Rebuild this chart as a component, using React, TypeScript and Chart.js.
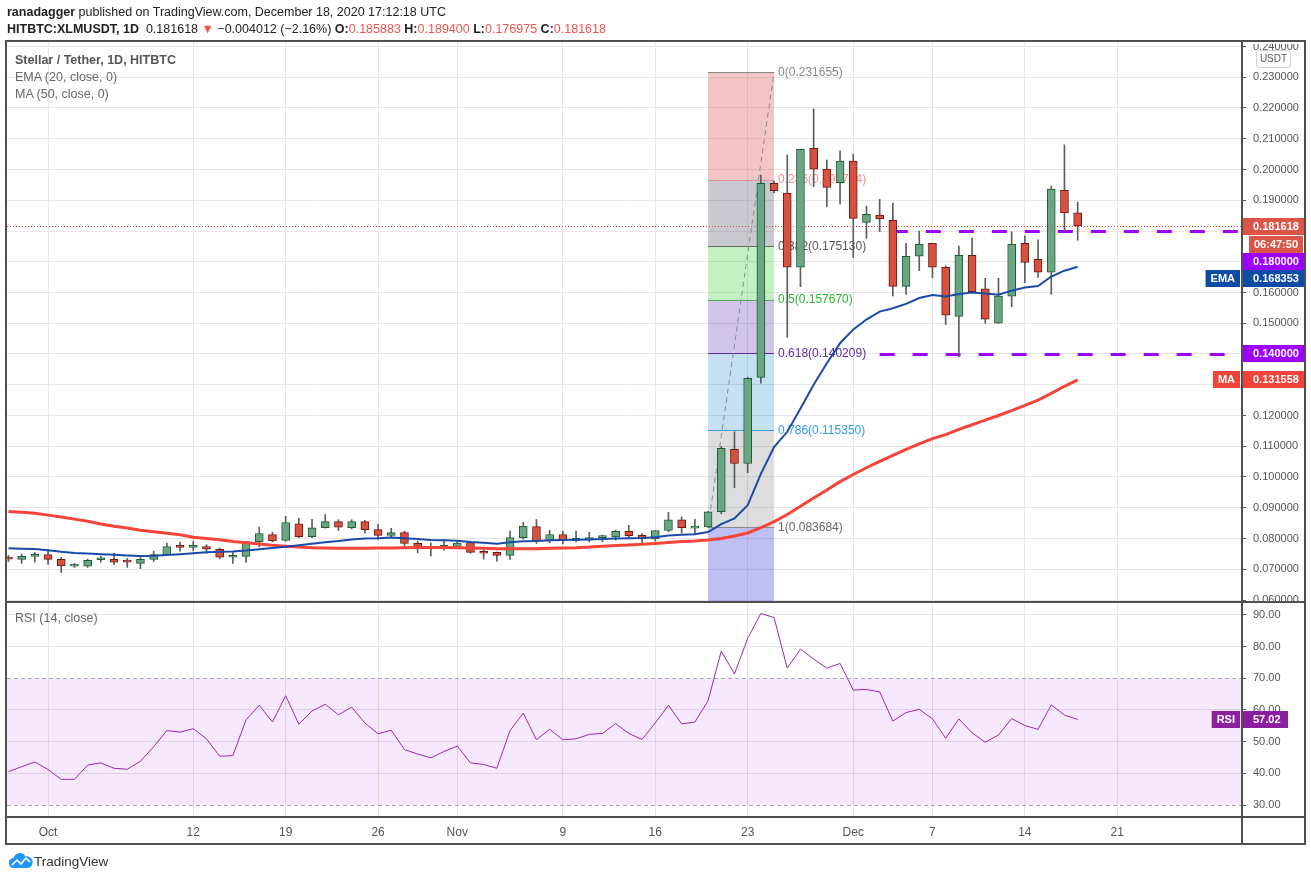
import React, { useEffect, useRef } from 'react';
import { Chart, registerables } from 'chart.js';

Chart.register(...registerables);

// ---------- DATA (index 0 = Sep 28, 2020; one candle per day up to Dec 18) ----------
const opens = [
  0.0738, 0.0732, 0.0742, 0.0748, 0.0732, 0.0710, 0.0710, 0.0731, 0.0732, 0.0725,
  0.0719, 0.0732, 0.0747, 0.0773, 0.0771, 0.0774, 0.0765, 0.0739, 0.0742, 0.0790,
  0.0813, 0.0794, 0.0848, 0.0806, 0.0835, 0.0855, 0.0835, 0.0855, 0.0829, 0.0810,
  0.0819, 0.0784, 0.0774, 0.0768, 0.0774, 0.0787, 0.0756, 0.0755, 0.0745, 0.0803,
  0.0839, 0.0792, 0.0813, 0.0794, 0.0795, 0.0803, 0.0805, 0.0823, 0.0810, 0.0799,
  0.0826, 0.0861, 0.0834, 0.0838, 0.0887, 0.1090, 0.1044, 0.1324, 0.1955, 0.1923,
  0.1682, 0.2069, 0.2001, 0.1957, 0.2027, 0.1828, 0.1852, 0.1835, 0.1620, 0.1718,
  0.1760, 0.1682, 0.1522, 0.1721, 0.1612, 0.1500, 0.1588, 0.1760, 0.1708, 0.1666,
  0.1932, 0.185883,
];
const highs = [
  0.0745, 0.0749, 0.0754, 0.0762, 0.0739, 0.0719, 0.0733, 0.0742, 0.0752, 0.0735,
  0.0738, 0.0759, 0.0785, 0.0788, 0.0791, 0.0780, 0.0769, 0.0754, 0.0791, 0.0837,
  0.0820, 0.0872, 0.0866, 0.0862, 0.0878, 0.0861, 0.0861, 0.0859, 0.0846, 0.0833,
  0.0824, 0.0792, 0.0785, 0.0795, 0.0792, 0.0791, 0.0765, 0.0756, 0.0824, 0.0853,
  0.0862, 0.0827, 0.0824, 0.0824, 0.0820, 0.0811, 0.0827, 0.0843, 0.0816, 0.0826,
  0.0885, 0.0870, 0.0862, 0.0888, 0.1099, 0.1147, 0.1325, 0.1982, 0.1962, 0.2047,
  0.2066, 0.2197, 0.2031, 0.2061, 0.2050, 0.1881, 0.1903, 0.1891, 0.1760, 0.1800,
  0.1760, 0.1687, 0.1751, 0.1777, 0.1646, 0.1646, 0.1797, 0.1784, 0.1771, 0.1946,
  0.2080, 0.189400,
];
const lows = [
  0.0725, 0.0719, 0.0723, 0.0716, 0.0689, 0.0706, 0.0706, 0.0723, 0.0716, 0.0706,
  0.0702, 0.0725, 0.0746, 0.0759, 0.0760, 0.0752, 0.0734, 0.0719, 0.0722, 0.0773,
  0.0789, 0.0791, 0.0803, 0.0803, 0.0834, 0.0826, 0.0831, 0.0818, 0.0797, 0.0805,
  0.0773, 0.0754, 0.0743, 0.0762, 0.0768, 0.0752, 0.0733, 0.0726, 0.0732, 0.0798,
  0.0784, 0.0786, 0.0782, 0.0789, 0.0789, 0.0789, 0.0795, 0.0799, 0.0786, 0.0791,
  0.0822, 0.0818, 0.0816, 0.0836, 0.0880, 0.0965, 0.1014, 0.1305, 0.1925, 0.1454,
  0.1619, 0.1944, 0.1879, 0.1888, 0.1714, 0.1776, 0.1798, 0.1589, 0.1594, 0.1671,
  0.1648, 0.1496, 0.1391, 0.1602, 0.1500, 0.1500, 0.1554, 0.1632, 0.1649, 0.1594,
  0.1800, 0.176975,
];
const closes = [
  0.0733, 0.0742, 0.0748, 0.0732, 0.0711, 0.0712, 0.0729, 0.0733, 0.0723, 0.0723,
  0.0732, 0.0748, 0.0774, 0.0771, 0.0774, 0.0765, 0.0739, 0.0742, 0.0790, 0.0816,
  0.0792, 0.0852, 0.0806, 0.0835, 0.0855, 0.0837, 0.0855, 0.0829, 0.0810, 0.0819,
  0.0784, 0.0773, 0.0767, 0.0778, 0.0785, 0.0755, 0.0752, 0.0745, 0.0803, 0.0840,
  0.0792, 0.0813, 0.0796, 0.0798, 0.0803, 0.0808, 0.0823, 0.0809, 0.0799, 0.0826,
  0.0861, 0.0835, 0.0837, 0.0887, 0.1093, 0.1044, 0.1321, 0.1955, 0.1931, 0.1682,
  0.2066, 0.2001, 0.1942, 0.2027, 0.1841, 0.1854, 0.1839, 0.1620, 0.1718, 0.1757,
  0.1682, 0.1526, 0.1721, 0.1603, 0.1513, 0.1588, 0.1757, 0.1698, 0.1666, 0.1936,
  0.1859, 0.181618,
];
const ema20 = [
  0.0768, 0.0767, 0.0766, 0.0762, 0.0757, 0.0753, 0.0751, 0.0749, 0.0747, 0.0745,
  0.0743, 0.0744, 0.0746, 0.0749, 0.0752, 0.0755, 0.0757, 0.0758, 0.0761, 0.0765,
  0.0769, 0.0773, 0.0778, 0.0783, 0.0788, 0.0792, 0.0797, 0.0800, 0.0801, 0.0803,
  0.0801, 0.0798, 0.0795, 0.0794, 0.0793, 0.0789, 0.0786, 0.0783, 0.0788, 0.0791,
  0.0792, 0.0794, 0.0795, 0.0796, 0.0797, 0.0798, 0.0800, 0.0801, 0.0802, 0.0804,
  0.0810, 0.0812, 0.0814, 0.0821, 0.0847, 0.0865, 0.0908, 0.1010, 0.1097, 0.1147,
  0.1223, 0.1300, 0.1370, 0.1435, 0.1480, 0.1512, 0.1538, 0.1549, 0.1563, 0.1582,
  0.1592, 0.1587, 0.1595, 0.1600, 0.1597, 0.1593, 0.1606, 0.1616, 0.1621, 0.1652,
  0.1671, 0.168353,
];
const ma50 = [
  0.0888, 0.0885, 0.0882, 0.0876, 0.0870, 0.0863, 0.0856, 0.0847, 0.0840, 0.0834,
  0.0827, 0.0822, 0.0817, 0.0812, 0.0804, 0.0800, 0.0796, 0.0790, 0.0786, 0.0782,
  0.0778, 0.0775, 0.0772, 0.0770, 0.0769, 0.0768, 0.0768, 0.0768, 0.0769, 0.0769,
  0.0770, 0.0771, 0.0771, 0.0771, 0.0770, 0.0769, 0.0768, 0.0767, 0.0767, 0.0767,
  0.0767, 0.0768, 0.0769, 0.0770, 0.0772, 0.0775, 0.0777, 0.0779, 0.0781, 0.0784,
  0.0787, 0.0790, 0.0792, 0.0795, 0.0800, 0.0808, 0.0818, 0.0835, 0.0855, 0.0878,
  0.0905, 0.0932, 0.0958, 0.0985, 0.1008, 0.1030, 0.1051, 0.1070, 0.1090, 0.1108,
  0.1125, 0.1138, 0.1155, 0.1170, 0.1185, 0.1200, 0.1216, 0.1233, 0.1250, 0.1272,
  0.1295, 0.131558,
];
const rsi14 = [
  40.5, 42.1, 43.6, 41.2, 38.1, 38.1, 42.6, 43.3, 41.6, 41.3,
  43.8, 48.4, 53.5, 53.0, 54.1, 50.9, 45.4, 45.6, 56.9, 61.5,
  56.2, 64.5, 55.5, 59.7, 61.8, 58.5, 60.9, 55.9, 52.5, 53.6,
  47.5, 46.1, 44.9, 46.9, 48.6, 43.3, 42.8, 41.6, 53.5, 59.0,
  50.6, 53.9, 50.6, 50.9, 52.3, 52.6, 55.7, 52.6, 50.7, 55.9,
  61.5, 55.6, 56.2, 62.9, 78.6, 71.4, 82.6, 90.5, 89.2, 73.2,
  79.2, 76.1, 73.2, 74.7, 66.3, 66.5, 65.7, 56.5, 59.2, 60.2,
  57.2, 51.1, 57.2, 52.8, 49.8, 52.1, 57.3, 55.1, 53.9, 61.6,
  58.4, 57.02,
];

const timeTickDays = [3, 14, 21, 28, 34, 42, 49, 56, 64, 70, 77, 84];
const timeTickLabels = ['Oct', '12', '19', '26', 'Nov', '9', '16', '23', 'Dec', '7', '14', '21'];
const priceTicks = [
  0.06, 0.07, 0.08, 0.09, 0.10, 0.11, 0.12, 0.13, 0.14, 0.15,
  0.16, 0.17, 0.18, 0.19, 0.20, 0.21, 0.22, 0.23, 0.24,
];
const rsiTicks = [30, 40, 50, 60, 70, 80, 90];

const fibRatios = [0, 0.236, 0.382, 0.5, 0.618, 0.786, 1];
const fibPrices = [0.231655, 0.196734, 0.17513, 0.15767, 0.140209, 0.11535, 0.083684];
const fibStartDay = 53;
const fibEndDay = 58;

const levelPrices = [0.18, 0.14];
const levelStartDays = [67, 66];

const lastPrice = 0.181618;
const countdownText = '06:47:50';

// ---------- STYLE ----------
const FONT = '"Liberation Sans", Arial, sans-serif';
const UP_FILL = '#6aa683';
const UP_LINE = '#1f5c34';
const DN_FILL = '#d65140';
const DN_LINE = '#6b1a10';
const WICK = '#5d5d5d';
const PURPLE = '#9d00ff';
const TAG_RED = '#dc5446';

const fibFills = [
  'rgba(220,80,80,0.33)',
  'rgba(120,123,134,0.40)',
  'rgba(60,210,60,0.30)',
  'rgba(103,58,183,0.30)',
  'rgba(40,140,210,0.27)',
  'rgba(120,120,120,0.25)',
  'rgba(60,60,220,0.33)',
];
const fibLineColors = ['#888888', '#e98f8f', '#666666', '#4caf50', '#5a2a9a', '#3a9bd8', '#888888'];
const fibTextColors = ['#888888', '#f09090', '#555555', '#2db82d', '#5b2d9e', '#2f9ee0', '#666666'];

function drawTag(ctx: CanvasRenderingContext2D, x: number, yc: number, w: number, h: number, bg: string, text: string, align: 'left' | 'center', tx: number) {
  ctx.fillStyle = bg;
  ctx.fillRect(x, Math.round(yc - h / 2), w, h);
  ctx.fillStyle = '#ffffff';
  ctx.font = `bold 11px ${FONT}`;
  ctx.textBaseline = 'middle';
  ctx.textAlign = align;
  ctx.fillText(text, tx, Math.round(yc - h / 2) + h / 2 + 0.5);
}

const overlayPlugin = {
  id: 'tvOverlay',
  beforeDatasetsDraw(chart: any) {
    const { ctx, chartArea, scales } = chart;
    const xs = scales.x;
    const ys = scales.y;
    const rs = scales.rsi;
    const L = chartArea.left;
    const R = chartArea.right;

    ctx.save();
    // RSI band
    const y70 = rs.getPixelForValue(70);
    const y30 = rs.getPixelForValue(30);
    ctx.fillStyle = 'rgba(170,50,240,0.11)';
    ctx.fillRect(L, y70, R - L, y30 - y70);
    ctx.strokeStyle = '#a9a9a9';
    ctx.lineWidth = 1;
    ctx.setLineDash([4, 3]);
    [y70, y30].forEach((yy: number) => {
      ctx.beginPath();
      ctx.moveTo(L, Math.round(yy) + 0.5);
      ctx.lineTo(R, Math.round(yy) + 0.5);
      ctx.stroke();
    });
    ctx.setLineDash([]);
    ctx.restore();

    // price pane drawings
    ctx.save();
    ctx.beginPath();
    ctx.rect(L, ys.top, R - L, ys.bottom - ys.top);
    ctx.clip();

    const xl = xs.getPixelForValue(fibStartDay);
    const xr = xs.getPixelForValue(fibEndDay);
    for (let k = 0; k < fibPrices.length - 1; k++) {
      const a = ys.getPixelForValue(fibPrices[k]);
      const b = ys.getPixelForValue(fibPrices[k + 1]);
      ctx.fillStyle = fibFills[k];
      ctx.fillRect(xl, a, xr - xl, b - a);
    }
    const lastY = ys.getPixelForValue(fibPrices[fibPrices.length - 1]);
    ctx.fillStyle = fibFills[fibFills.length - 1];
    ctx.fillRect(xl, lastY, xr - xl, ys.bottom - lastY);

    ctx.lineWidth = 1;
    fibPrices.forEach((p, k) => {
      const yy = Math.round(ys.getPixelForValue(p)) + 0.5;
      ctx.strokeStyle = fibLineColors[k];
      ctx.beginPath();
      ctx.moveTo(xl, yy);
      ctx.lineTo(xr, yy);
      ctx.stroke();
    });
    ctx.font = `12px ${FONT}`;
    ctx.textAlign = 'left';
    ctx.textBaseline = 'middle';
    fibPrices.forEach((p, k) => {
      const yy = ys.getPixelForValue(p);
      ctx.fillStyle = fibTextColors[k];
      ctx.fillText(`${fibRatios[k]}(${p.toFixed(6)})`, xr + 4, yy + 0.5);
    });
    // trend line
    ctx.strokeStyle = '#8a8a8a';
    ctx.setLineDash([5, 4]);
    ctx.beginPath();
    ctx.moveTo(xl, ys.getPixelForValue(fibPrices[fibPrices.length - 1]));
    ctx.lineTo(xr, ys.getPixelForValue(fibPrices[0]));
    ctx.stroke();

    // last price dotted line
    const lp = Math.round(ys.getPixelForValue(lastPrice)) + 0.5;
    ctx.strokeStyle = '#e04a3a';
    ctx.setLineDash([1, 2]);
    ctx.beginPath();
    ctx.moveTo(L, lp);
    ctx.lineTo(R, lp);
    ctx.stroke();

    // purple dashed levels
    ctx.strokeStyle = PURPLE;
    ctx.lineWidth = 3;
    ctx.setLineDash([15, 18]);
    levelPrices.forEach((p, k) => {
      const yy = Math.round(ys.getPixelForValue(p)) + 0.5;
      ctx.beginPath();
      ctx.moveTo(xs.getPixelForValue(levelStartDays[k]), yy);
      ctx.lineTo(R, yy);
      ctx.stroke();
    });
    ctx.setLineDash([]);
    ctx.restore();
  },
  afterDraw(chart: any) {
    const { ctx, chartArea, scales } = chart;
    const ys = scales.y;
    const rs = scales.rsi;
    const R = chartArea.right;
    const full = chart.width;

    ctx.save();
    // clip the top tick label like the reference
    ctx.fillStyle = '#ffffff';
    ctx.fillRect(R + 1, 0, full - R, chartArea.top + 3);

    // USDT box
    ctx.fillStyle = '#ffffff';
    ctx.strokeStyle = '#d0d0d4';
    ctx.lineWidth = 1;
    ctx.beginPath();
    (ctx as any).roundRect(1256.5, 50.5, 34, 17, 3);
    ctx.fill();
    ctx.stroke();
    ctx.fillStyle = '#555555';
    ctx.font = `10px ${FONT}`;
    ctx.textAlign = 'center';
    ctx.textBaseline = 'middle';
    ctx.fillText('USDT', 1273.5, 59.5);

    // price tags with overlap stacking
    const H = 17;
    const tagW = 63;
    const textX = R + 11;
    const items = [
      { v: lastPrice, bg: TAG_RED, txt: lastPrice.toFixed(6), lab: '', countdown: true },
      { v: levelPrices[0], bg: PURPLE, txt: levelPrices[0].toFixed(6), lab: '', countdown: false },
      { v: ema20[ema20.length - 1], bg: '#0e4ba6', txt: ema20[ema20.length - 1].toFixed(6), lab: 'EMA', countdown: false },
      { v: levelPrices[1], bg: PURPLE, txt: levelPrices[1].toFixed(6), lab: '', countdown: false },
      { v: ma50[ma50.length - 1], bg: '#f2433a', txt: ma50[ma50.length - 1].toFixed(6), lab: 'MA', countdown: false },
    ].map((it) => ({ ...it, y: ys.getPixelForValue(it.v) }));
    items.sort((a, b) => a.y - b.y);
    let prevBottom = -1e9;
    items.forEach((it) => {
      let yc = it.y;
      if (yc - H / 2 < prevBottom) yc = prevBottom + H / 2;
      drawTag(ctx, R, yc, tagW, H, it.bg, it.txt, 'left', textX);
      if (it.lab) {
        ctx.font = `bold 11px ${FONT}`;
        const w = ctx.measureText(it.lab).width + 10;
        drawTag(ctx, R - 2 - w, yc, w, H, it.bg, it.lab, 'center', R - 2 - w / 2);
      }
      prevBottom = yc + H / 2;
      if (it.countdown) {
        const cy = prevBottom + 1 + H / 2;
        drawTag(ctx, R + 7, cy, 54, H, it.bg, countdownText, 'center', R + 7 + 27);
        prevBottom = cy + H / 2;
      }
    });

    // RSI tag
    const rv = rsi14[rsi14.length - 1];
    const ry = rs.getPixelForValue(rv);
    drawTag(ctx, R, ry, 46, H, '#8b1fa0', rv.toFixed(2), 'left', textX);
    ctx.font = `bold 11px ${FONT}`;
    const rw = ctx.measureText('RSI').width + 10;
    drawTag(ctx, R - 2 - rw, ry, rw, H, '#8b1fa0', 'RSI', 'center', R - 2 - rw / 2);

    // frame
    ctx.strokeStyle = '#505050';
    ctx.lineWidth = 2;
    const left = chartArea.left;
    const top = chartArea.top;
    const right = full - 6;
    const bottom = scales.x.bottom;
    ctx.strokeRect(left - 1, top, right - left + 1, bottom - top);
    ctx.beginPath();
    ctx.moveTo(R, top);
    ctx.lineTo(R, bottom);
    ctx.moveTo(left - 1, ys.bottom);
    ctx.lineTo(right, ys.bottom);
    ctx.moveTo(left - 1, chartArea.bottom);
    ctx.lineTo(right, chartArea.bottom);
    ctx.stroke();
    ctx.restore();
  },
};

export default function App() {
  const canvasRef = useRef<HTMLCanvasElement | null>(null);

  useEffect(() => {
    const canvas = canvasRef.current;
    if (!canvas) return;
    Chart.defaults.font.family = FONT;

    const candleColors = closes.map((c, i) => (c >= opens[i] ? UP_FILL : DN_FILL));
    const candleBorders = closes.map((c, i) => (c >= opens[i] ? UP_LINE : DN_LINE));

    const chart = new Chart(canvas, {
      type: 'bar',
      data: {
        datasets: [
          {
            type: 'line',
            label: 'EMA',
            data: ema20.map((v, i) => ({ x: i, y: v })),
            borderColor: '#1a4aa8',
            borderWidth: 2,
            pointRadius: 0,
            tension: 0,
            yAxisID: 'y',
            xAxisID: 'x',
            order: 0,
          } as any,
          {
            type: 'line',
            label: 'MA',
            data: ma50.map((v, i) => ({ x: i, y: v })),
            borderColor: '#f5443a',
            borderWidth: 3,
            pointRadius: 0,
            tension: 0,
            yAxisID: 'y',
            xAxisID: 'x',
            order: 0,
          } as any,
          {
            type: 'line',
            label: 'RSI',
            data: rsi14.map((v, i) => ({ x: i, y: v })),
            borderColor: '#9c27b0',
            borderWidth: 1,
            pointRadius: 0,
            tension: 0,
            yAxisID: 'rsi',
            xAxisID: 'x',
            order: 0,
          } as any,
          {
            type: 'bar',
            label: 'body',
            data: opens.map((o, i) => ({ x: i, y: [o, closes[i]] })),
            backgroundColor: candleColors,
            borderColor: candleBorders,
            borderWidth: 1,
            borderSkipped: false,
            barThickness: 8,
            minBarLength: 2,
            grouped: false,
            yAxisID: 'y',
            xAxisID: 'x',
            order: 1,
          } as any,
          {
            type: 'bar',
            label: 'wick',
            data: lows.map((l, i) => ({ x: i, y: [l, highs[i]] })),
            backgroundColor: WICK,
            borderWidth: 0,
            barThickness: 1,
            grouped: false,
            yAxisID: 'y',
            xAxisID: 'x',
            order: 2,
          } as any,
        ],
      },
      options: {
        responsive: false,
        animation: false,
        events: [],
        layout: { padding: { left: 7, top: 41, right: 6, bottom: 37 } },
        plugins: { legend: { display: false }, tooltip: { enabled: false } },
        scales: {
          x: {
            type: 'linear',
            position: 'bottom',
            min: -0.11,
            max: 93.45,
            offset: false,
            grid: { color: '#e6e6e6', drawTicks: false, offset: false },
            border: { display: false },
            ticks: {
              autoSkip: false,
              maxRotation: 0,
              padding: 8,
              color: '#555555',
              font: { size: 12 },
              callback: (_v: any, idx: number) => timeTickLabels[idx],
            },
            afterBuildTicks: (s: any) => {
              s.ticks = timeTickDays.map((d) => ({ value: d }));
            },
            afterFit: (s: any) => {
              s.height = 27;
            },
          },
          y: {
            type: 'linear',
            axis: 'y',
            position: 'right',
            stack: 'panes',
            stackWeight: 561,
            weight: 1,
            min: 0.06 - 2 / 3075,
            max: 0.06 + 559 / 3075,
            grid: { color: '#e6e6e6', tickLength: 4, tickColor: '#555555' },
            border: { display: false },
            ticks: {
              autoSkip: false,
              padding: 7,
              color: '#555555',
              font: { size: 11 },
              callback: (v: any) => Number(v).toFixed(6),
            },
            afterBuildTicks: (s: any) => {
              s.ticks = priceTicks.map((v) => ({ value: v }));
            },
            afterFit: (s: any) => {
              s.width = 63;
            },
          },
          rsi: {
            type: 'linear',
            axis: 'y',
            position: 'right',
            stack: 'panes',
            stackWeight: 215,
            weight: 2,
            min: 30 - 12 / 3.1667,
            max: 90 + 13 / 3.1667,
            grid: {
              color: (c: any) => (c.tick && (c.tick.value === 70 || c.tick.value === 30) ? 'rgba(0,0,0,0)' : '#e6e6e6'),
              tickLength: 4,
              tickColor: '#555555',
            },
            border: { display: false },
            ticks: {
              autoSkip: false,
              padding: 7,
              color: '#555555',
              font: { size: 11 },
              callback: (v: any) => Number(v).toFixed(2),
            },
            afterBuildTicks: (s: any) => {
              s.ticks = rsiTicks.map((v) => ({ value: v }));
            },
            afterFit: (s: any) => {
              s.width = 63;
            },
          },
        },
      } as any,
      plugins: [overlayPlugin as any],
    });

    return () => {
      chart.destroy();
    };
  }, []);

  const red = '#ef5350';
  const hdr: React.CSSProperties = {
    position: 'absolute',
    left: 7,
    whiteSpace: 'nowrap',
    fontFamily: FONT,
    fontSize: 12.5,
    lineHeight: '16px',
    color: '#222',
  };
  const leg: React.CSSProperties = {
    position: 'absolute',
    left: 15,
    whiteSpace: 'nowrap',
    fontFamily: FONT,
    fontSize: 12.5,
    lineHeight: '16px',
    color: '#666',
  };

  return (
    <div style={{ position: 'relative', width: 1311, height: 881, background: '#fff', overflow: 'hidden' }}>
      <style>{'body{margin:0;background:#fff;}'}</style>
      <canvas ref={canvasRef} width={1311} height={881} style={{ position: 'absolute', left: 0, top: 0, display: 'block' }} />
      <div style={{ ...hdr, top: 4 }}>
        <b>ranadagger</b> published on TradingView.com, December 18, 2020 17:12:18 UTC
      </div>
      <div style={{ ...hdr, top: 21 }}>
        <b>HITBTC:XLMUSDT, 1D</b>&nbsp; 0.181618 <span style={{ color: red }}>▼</span> −0.004012 (−2.16%){' '}
        <b>O:</b>
        <span style={{ color: red }}>0.185883</span> <b>H:</b>
        <span style={{ color: red }}>0.189400</span> <b>L:</b>
        <span style={{ color: red }}>0.176975</span> <b>C:</b>
        <span style={{ color: red }}>0.181618</span>
      </div>
      <div style={{ ...leg, top: 52, color: '#555', fontWeight: 'bold' }}>Stellar / Tether, 1D, HITBTC</div>
      <div style={{ ...leg, top: 69 }}>EMA (20, close, 0)</div>
      <div style={{ ...leg, top: 86 }}>MA (50, close, 0)</div>
      <div style={{ ...leg, top: 610 }}>RSI (14, close)</div>
      <div style={{ position: 'absolute', left: 9, top: 852 }}>
        <svg width="24" height="17" viewBox="0 0 24 17">
          <path d="M5 16 A5 5 0 0 1 4.5 6 A6.5 6.5 0 0 1 16.5 4.5 A5.5 5.5 0 0 1 19 16 Z" fill="#2196f3" />
          <polyline points="3,13 8,8 12,12 17,6 21,10" stroke="#ffffff" strokeWidth="1.7" fill="none" strokeLinejoin="round" />
        </svg>
      </div>
      <div style={{ position: 'absolute', left: 34, top: 854, fontFamily: FONT, fontSize: 13.5, lineHeight: '16px', color: '#333' }}>
        TradingView
      </div>
    </div>
  );
}
